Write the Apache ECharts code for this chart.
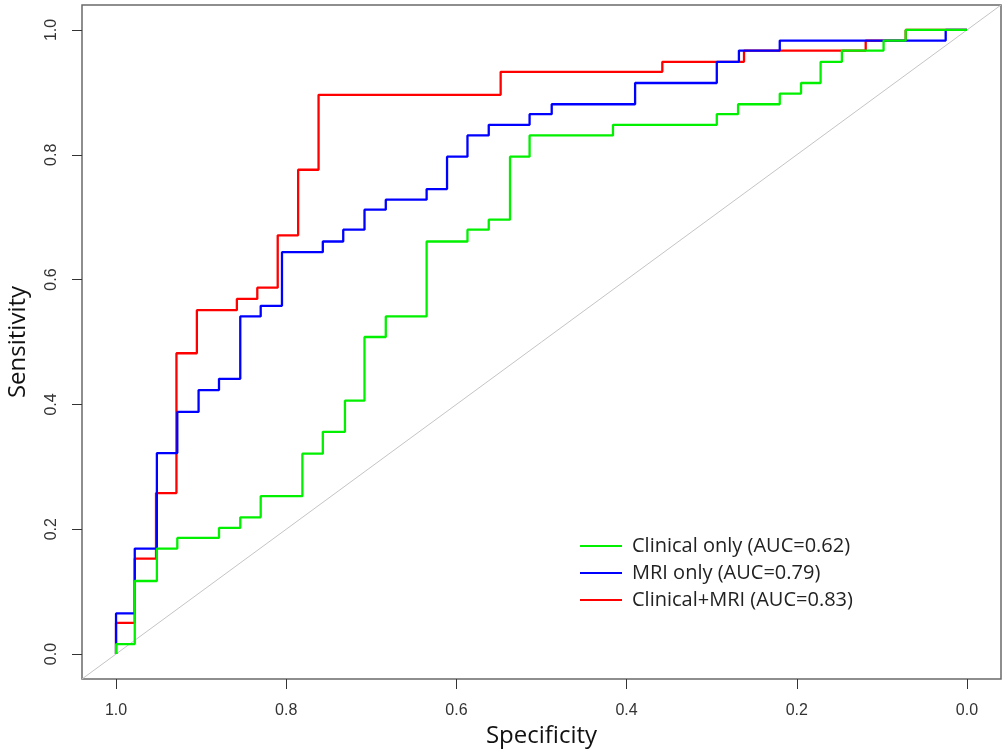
<!DOCTYPE html>
<html>
<head>
<meta charset="utf-8">
<script src="https://cdn.jsdelivr.net/npm/echarts@6/dist/echarts.min.js"></script>
<style>
html,body{margin:0;padding:0;background:#fff;}
#chart{width:1006px;height:752px;}
</style>
</head>
<body>
<div id="chart"></div>
<script>
// Step points (specificity, sensitivity); path rises at previous specificity, then runs across.
const seriesNames = ['Clinical only (AUC=0.62)', 'MRI only (AUC=0.79)', 'Clinical+MRI (AUC=0.83)'];

const clinicalSpec = [1, 0.978, 0.952, 0.928, 0.879, 0.854, 0.830, 0.781, 0.757, 0.731, 0.708, 0.683, 0.635, 0.587, 0.562, 0.537, 0.514, 0.416, 0.294, 0.269, 0.220, 0.195, 0.172, 0.147, 0.098, 0.072, 0];
const clinicalSens = [0, 0.016, 0.117, 0.169, 0.186, 0.202, 0.219, 0.253, 0.321, 0.356, 0.406, 0.508, 0.541, 0.661, 0.680, 0.696, 0.797, 0.831, 0.848, 0.865, 0.881, 0.898, 0.915, 0.949, 0.967, 0.983, 1.0];

const mriSpec = [1, 0.978, 0.952, 0.928, 0.903, 0.879, 0.854, 0.830, 0.805, 0.757, 0.733, 0.708, 0.683, 0.635, 0.611, 0.587, 0.562, 0.514, 0.488, 0.390, 0.294, 0.268, 0.220, 0.025, 0];
const mriSens = [0, 0.065, 0.169, 0.322, 0.388, 0.423, 0.441, 0.541, 0.558, 0.644, 0.661, 0.680, 0.712, 0.728, 0.745, 0.797, 0.831, 0.848, 0.865, 0.881, 0.915, 0.949, 0.967, 0.983, 1.0];

const combSpec = [1, 0.978, 0.953, 0.929, 0.905, 0.858, 0.834, 0.810, 0.786, 0.762, 0.548, 0.358, 0.262, 0.119, 0.072, 0];
const combSens = [0, 0.050, 0.153, 0.258, 0.482, 0.551, 0.569, 0.587, 0.671, 0.776, 0.896, 0.933, 0.949, 0.967, 0.983, 1.0];

const tickValues = [0, 0.2, 0.4, 0.6, 0.8, 1.0];
const axisMin = -0.04, axisMax = 1.04;

const colors = { clinical: '#00f000', mri: '#0000ff', comb: '#ff0000' };

function pairs(xs, ys) { return xs.map((x, i) => [x, ys[i]]); }

const chart = echarts.init(document.getElementById('chart'), null, { renderer: 'canvas' });

function rocSeries(name, xs, ys, color) {
  return {
    name: name, type: 'line', step: 'start', symbol: 'none', silent: true,
    data: pairs(xs, ys),
    lineStyle: { color: color, width: 2.3 },
    itemStyle: { color: color },
    animation: false
  };
}

const option = {
  animation: false,
  backgroundColor: '#ffffff',
  grid: { left: 82, right: 5, top: 5, bottom: 73, outerBoundsMode: 'none', containLabel: false, show: true, borderColor: '#6a6a6a', borderWidth: 1.5, backgroundColor: 'transparent' },
  xAxis: {
    type: 'value', inverse: true, min: axisMin, max: axisMax, position: 'bottom',
    splitLine: { show: false },
    axisLine: { show: false, onZero: false },
    axisTick: { show: true, inside: false, length: 10, customValues: tickValues, lineStyle: { color: '#333', width: 1 } },
    axisLabel: { customValues: tickValues, margin: 24, fontSize: 16, color: '#333', fontFamily: 'Liberation Sans', formatter: v => v.toFixed(1) },
    name: 'Specificity', nameLocation: 'middle', nameGap: 42,
    nameTextStyle: { fontSize: 24, color: '#111', fontFamily: 'Open Sans' }
  },
  yAxis: {
    type: 'value', min: axisMin, max: axisMax, position: 'left',
    splitLine: { show: false },
    axisLine: { show: false, onZero: false },
    axisTick: { show: true, inside: false, length: 10, customValues: tickValues, lineStyle: { color: '#333', width: 1 } },
    axisLabel: { customValues: tickValues, rotate: 90, margin: 22, fontSize: 16, color: '#333', fontFamily: 'Liberation Sans', formatter: v => v.toFixed(1) },
    name: 'Sensitivity', nameLocation: 'middle', nameGap: 52, nameRotate: 90,
    nameTextStyle: { fontSize: 24, color: '#111', fontFamily: 'Open Sans' }
  },
  legend: {
    data: seriesNames,
    orient: 'vertical', left: 575, top: 530,
    icon: 'rect', itemWidth: 42, itemHeight: 2, itemGap: 5,
    textStyle: { fontSize: 20, lineHeight: 22, color: '#222', fontFamily: 'Open Sans', padding: [0, 0, 0, 5] },
    selectedMode: false
  },
  series: [
    {
      name: 'diagonal', type: 'line', symbol: 'none', silent: true,
      data: [[axisMax, 1 - axisMax], [axisMin, 1 - axisMin]],
      lineStyle: { color: '#c4c4c4', width: 1 }, z: 1
    },
    rocSeries(seriesNames[2], combSpec, combSens, colors.comb),
    rocSeries(seriesNames[1], mriSpec, mriSens, colors.mri),
    rocSeries(seriesNames[0], clinicalSpec, clinicalSens, colors.clinical)
  ]
};
chart.setOption(option);
</script>
</body>
</html>
